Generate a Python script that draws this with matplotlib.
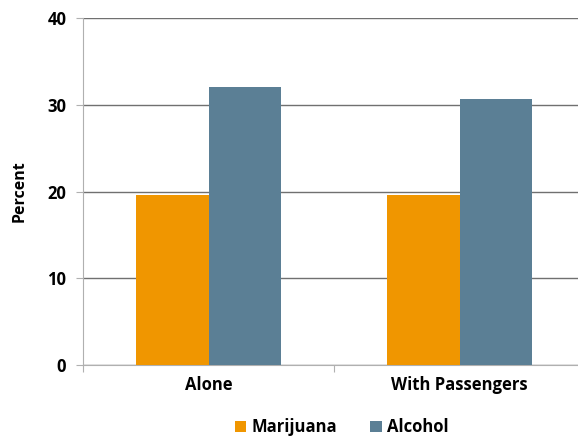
import numpy as np
import matplotlib.pyplot as plt

plt.rcParams['font.family'] = ['Open Sans', 'DejaVu Sans']

# values
categories = ['Alone', 'With Passengers']
marijuana = [19.6, 19.65]
alcohol = [32.05, 30.7]
yticks = [0, 10, 20, 30, 40]

fig = plt.figure(figsize=(5.78, 4.36), dpi=100)
# axes run slightly past the right edge, as in the original
ax = fig.add_axes([83/578, 1 - 365/436, (585 - 83)/578, (365 - 18)/436])

x = np.arange(len(categories))
w = 0.287
ax.bar(x - w/2, marijuana, w, color='#F09600', label='Marijuana', zorder=3)
ax.bar(x + w/2, alcohol, w, color='#5B7F95', label='Alcohol', zorder=3)

ax.set_xlim(-0.5, 1.5)
ax.set_ylim(0, 40)
ax.set_yticks(yticks)
ax.set_yticklabels([str(t) for t in yticks], fontsize=12, fontweight='bold')
ax.yaxis.grid(True, color='#707070', linewidth=1.0, zorder=0)
ax.set_ylabel('Percent', fontsize=11.5, fontweight='bold', labelpad=14)

# category labels centred, ticks on the boundaries
ax.set_xticks([-0.5, 0.5, 1.5])
ax.set_xticklabels([])
ax.set_xticks(x, minor=True)
ax.set_xticklabels(categories, minor=True, fontsize=12, fontweight='bold')
ax.tick_params(axis='x', which='minor', length=0, pad=8)
ax.tick_params(axis='x', which='major', length=5, color='#b0b0b0', direction='out')
ax.tick_params(axis='y', length=5, color='#b0b0b0', pad=7)

for s in ['top', 'right']:
    ax.spines[s].set_visible(False)
for s in ['left', 'bottom']:
    ax.spines[s].set_color('#b0b0b0')

ax.legend(loc='upper center', bbox_to_anchor=(0.515, -0.125), ncol=2, frameon=False,
          prop={'size': 12, 'weight': 'bold'}, handlelength=0.7, handleheight=0.7,
          handletextpad=0.3, columnspacing=2.0, borderpad=0.1)

fig.savefig('out.png', dpi=100)
